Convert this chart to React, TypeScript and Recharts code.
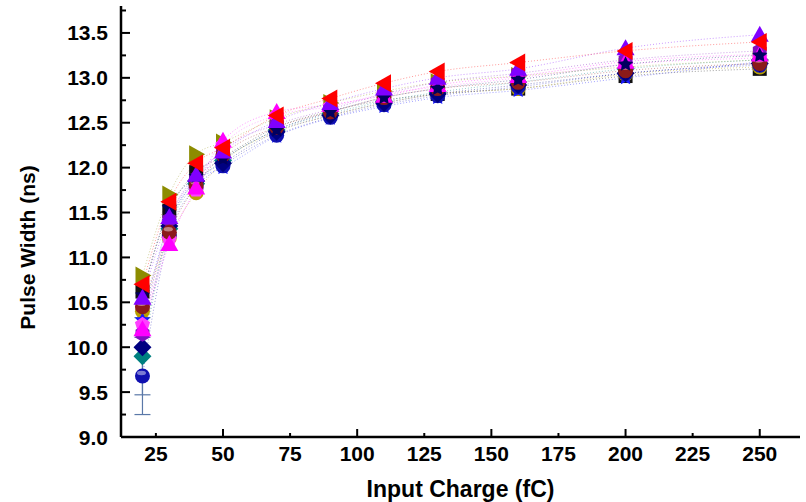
import React from "react";
import { ComposedChart, Line, XAxis, YAxis, ErrorBar } from "recharts";

// input charge (fC) for every measurement
const charge = [20, 30, 40, 50, 70, 90, 110, 130, 160, 200, 250];

// pulse width (ns) per channel
const ch1 = [10.8, 11.7, 12.15, 12.28, 12.55, 12.72, 12.85, 12.95, 13.02, 13.12, 13.2];
const ch2 = [10.62, 11.52, 11.95, 12.12, 12.45, 12.63, 12.75, 12.82, 12.88, 13.02, 13.1];
const ch3 = [10.4, 11.22, 11.72, 12.06, 12.4, 12.58, 12.72, 12.82, 12.88, 13.04, 13.12];
const ch4 = [10.3, 11.4, 11.85, 12.0, 12.35, 12.55, 12.68, 12.78, 12.86, 13.0, 13.18];
const ch5 = [9.68, 11.25, 11.78, 12.02, 12.36, 12.56, 12.7, 12.8, 12.9, 13.05, 13.14];
const ch6 = [9.9, 11.32, 11.82, 12.08, 12.42, 12.6, 12.74, 12.84, 12.95, 13.1, 13.2];
const ch7 = [10.0, 11.35, 11.85, 12.05, 12.4, 12.58, 12.72, 12.82, 12.92, 13.05, 13.16];
const ch8 = [10.25, 11.2, 11.75, 12.25, 12.58, 12.68, 12.82, 12.9, 13.0, 13.15, 13.22];
const ch9 = [10.15, 11.42, 11.88, 12.2, 12.48, 12.65, 12.82, 12.95, 13.05, 13.2, 13.3];
const ch10 = [10.45, 11.28, 11.8, 12.14, 12.45, 12.62, 12.78, 12.88, 12.95, 13.08, 13.16];
const ch11 = [10.2, 11.15, 11.78, 12.3, 12.62, 12.7, 12.8, 12.92, 13.02, 13.18, 13.26];
const ch12 = [10.58, 11.55, 11.9, 12.1, 12.42, 12.62, 12.78, 12.88, 12.98, 13.15, 13.25];
const ch13 = [10.55, 11.45, 11.92, 12.18, 12.52, 12.72, 12.88, 13.0, 13.1, 13.33, 13.48];
const ch14 = [10.7, 11.62, 12.05, 12.22, 12.58, 12.77, 12.94, 13.07, 13.17, 13.3, 13.4];

// errors on the low-charge points of ch5 and ch6
const ch5Err = [0.43, 0, 0, 0, 0, 0, 0, 0, 0, 0, 0];
const ch6Err = [0.43, 0, 0, 0, 0, 0, 0, 0, 0, 0, 0];

const xTicks = [25, 50, 75, 100, 125, 150, 175, 200, 225, 250];
const yTicks = [9, 9.25, 9.5, 9.75, 10, 10.25, 10.5, 10.75, 11, 11.25, 11.5, 11.75, 12, 12.25, 12.5, 12.75, 13, 13.25, 13.5, 13.75];

const series = [
  { key: "ch1", values: ch1, color: "#8c8c00", shape: "right" },
  { key: "ch2", values: ch2, color: "#111111", shape: "square" },
  { key: "ch3", values: ch3, color: "#b8a000", shape: "circle" },
  { key: "ch4", values: ch4, color: "#1a1aff", shape: "star" },
  { key: "ch5", values: ch5, color: "#1010b0", shape: "circle", err: "ch5Err" },
  { key: "ch6", values: ch6, color: "#008080", shape: "diamond", err: "ch6Err" },
  { key: "ch7", values: ch7, color: "#000080", shape: "diamond" },
  { key: "ch8", values: ch8, color: "#ff40ff", shape: "pent" },
  { key: "ch9", values: ch9, color: "#8010c0", shape: "hex" },
  { key: "ch10", values: ch10, color: "#8b1a1a", shape: "circle" },
  { key: "ch11", values: ch11, color: "#ff00ff", shape: "up" },
  { key: "ch12", values: ch12, color: "#000060", shape: "star" },
  { key: "ch13", values: ch13, color: "#8000ff", shape: "up" },
  { key: "ch14", values: ch14, color: "#ff0000", shape: "left" },
];

const data = charge.map((q, i) => {
  const row: any = { q, ch5Err: ch5Err[i] || undefined, ch6Err: ch6Err[i] || undefined };
  series.forEach((s) => {
    row[s.key] = s.values[i];
  });
  return row;
});

const font = "'Liberation Sans', Arial, sans-serif";

function Marker({ cx, cy, color, shape }: any) {
  const r = 8;
  if (cx == null || cy == null) return null;
  if (shape === "square") {
    return <rect x={cx - r + 1} y={cy - r + 1} width={2 * r - 2} height={2 * r - 2} fill={color} />;
  }
  if (shape === "circle") {
    return (
      <g>
        <circle cx={cx} cy={cy} r={r - 0.5} fill={color} />
        <ellipse cx={cx - 1} cy={cy - 3} rx={4.5} ry={2.2} fill="#ffffff" opacity={0.45} />
      </g>
    );
  }
  let pts: number[][] = [];
  if (shape === "up") pts = [[0, -r - 1], [r + 1, r - 1], [-r - 1, r - 1]];
  if (shape === "left") pts = [[-r - 1, 0], [r - 1, -r - 1], [r - 1, r + 1]];
  if (shape === "right") pts = [[r + 1, 0], [-r + 1, -r - 1], [-r + 1, r + 1]];
  if (shape === "diamond") pts = [[0, -r - 1], [r + 1, 0], [0, r + 1], [-r - 1, 0]];
  if (shape === "pent" || shape === "hex" || shape === "star") {
    const n = shape === "pent" ? 5 : shape === "hex" ? 6 : 10;
    for (let k = 0; k < n; k++) {
      const a = -Math.PI / 2 + (k * 2 * Math.PI) / n;
      const rr = shape === "star" && k % 2 === 1 ? r * 0.5 : r;
      pts.push([rr * Math.cos(a), rr * Math.sin(a)]);
    }
  }
  return <polygon points={pts.map((p) => `${cx + p[0]},${cy + p[1]}`).join(" ")} fill={color} />;
}

const BottomTick = ({ x, y, payload }: any) => {
  const major = payload.value % 50 === 0;
  return (
    <g>
      <line x1={x} x2={x} y1={y} y2={y - (major ? 8 : 4)} stroke="#000" strokeWidth={2} />
      <text x={x} y={y + 24} textAnchor="middle" fontFamily={font} fontWeight="bold" fontSize={21} fill="#000">
        {payload.value}
      </text>
    </g>
  );
};

const TopTick = ({ x, y, payload }: any) => {
  const major = payload.value % 50 === 0;
  return <line x1={x} x2={x} y1={y} y2={y + (major ? 8 : 4)} stroke="#000" strokeWidth={2} />;
};

const LeftTick = ({ x, y, payload }: any) => {
  const major = Math.abs((payload.value * 2) % 1) < 1e-6;
  return (
    <g>
      <line x1={x} x2={x + (major ? 9 : 5)} y1={y} y2={y} stroke="#000" strokeWidth={2} />
      {major && (
        <text x={x - 13} y={y} dy="0.36em" textAnchor="end" fontFamily={font} fontWeight="bold" fontSize={21} fill="#000">
          {payload.value.toFixed(1)}
        </text>
      )}
    </g>
  );
};

const RightTick = ({ x, y, payload }: any) => {
  const major = Math.abs((payload.value * 2) % 1) < 1e-6;
  return <line x1={x} x2={x - (major ? 9 : 5)} y1={y} y2={y} stroke="#000" strokeWidth={2} />;
};

export default function App() {
  return (
    <div style={{ position: "absolute", left: 0, top: 0, width: 806, height: 502, background: "#fff" }}>
      <ComposedChart width={806} height={502} data={data} margin={{ top: 6, right: 6, bottom: 0, left: 0 }}>
        <XAxis
          dataKey="q"
          type="number"
          domain={[12, 265]}
          ticks={xTicks}
          allowDataOverflow
          height={65}
          tickSize={0}
          tickMargin={0}
          tickLine={false}
          axisLine={{ stroke: "#000", strokeWidth: 2.5 }}
          tick={<BottomTick />}
          interval={0}
          label={{ value: "Input Charge (fC)", position: "insideBottom", offset: 5, fontFamily: font, fontWeight: "bold", fontSize: 23, fill: "#000" }}
        />
        <XAxis
          xAxisId="t"
          dataKey="q"
          type="number"
          orientation="top"
          domain={[12, 265]}
          ticks={xTicks}
          allowDataOverflow
          height={0}
          tickSize={0}
          tickMargin={0}
          tickLine={false}
          axisLine={{ stroke: "#000", strokeWidth: 2.5 }}
          tick={<TopTick />}
          interval={0}
        />
        <YAxis
          type="number"
          domain={[9, 13.8]}
          ticks={yTicks}
          allowDataOverflow
          width={121}
          tickSize={0}
          tickMargin={0}
          tickLine={false}
          axisLine={{ stroke: "#000", strokeWidth: 2.5 }}
          tick={<LeftTick />}
          interval={0}
          label={{ value: "Pulse Width (ns)", angle: -90, position: "insideLeft", offset: 28, dy: 26, style: { textAnchor: "middle" }, fontFamily: font, fontWeight: "bold", fontSize: 21, fill: "#000" }}
        />
        <YAxis
          yAxisId="r"
          type="number"
          orientation="right"
          domain={[9, 13.8]}
          ticks={yTicks}
          allowDataOverflow
          width={0}
          tickSize={0}
          tickMargin={0}
          tickLine={false}
          axisLine={{ stroke: "#000", strokeWidth: 2.5 }}
          tick={<RightTick />}
          interval={0}
        />
        {series.map((s) => (
          <Line
            key={s.key}
            dataKey={s.key}
            type="monotone"
            stroke={s.color}
            strokeOpacity={0.4}
            strokeWidth={1}
            strokeDasharray="1 2"
            isAnimationActive={false}
            activeDot={false}
            dot={(p: any) => <Marker key={`${s.key}-${p.index}`} cx={p.cx} cy={p.cy} color={s.color} shape={s.shape} />}
          >
            {s.err && <ErrorBar dataKey={s.err} direction="y" width={8} stroke="#5a78a8" strokeWidth={1.2} />}
          </Line>
        ))}
      </ComposedChart>
    </div>
  );
}
